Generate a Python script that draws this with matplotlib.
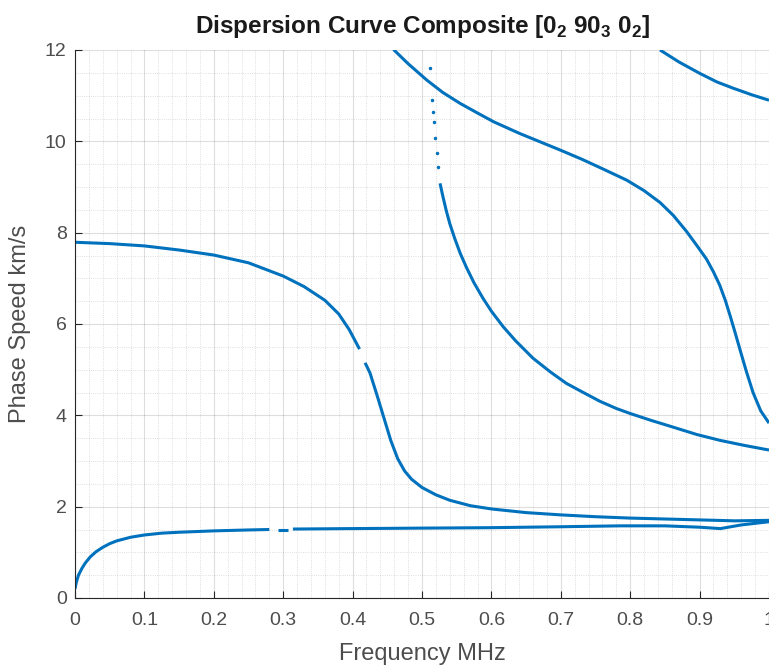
import matplotlib.pyplot as plt
from matplotlib.ticker import MultipleLocator

plt.rcParams['font.family'] = ['Liberation Sans', 'DejaVu Sans']
plt.rcParams['mathtext.fontset'] = 'custom'
plt.rcParams['mathtext.rm'] = 'Liberation Sans'
plt.rcParams['mathtext.bf'] = 'Liberation Sans:bold'

# curve values (frequency MHz, phase speed km/s)
a_freq = [0.0, 0.002, 0.005, 0.01, 0.015, 0.022, 0.03, 0.04, 0.05, 0.06,
          0.08, 0.1, 0.125, 0.15, 0.2, 0.25, 0.28]
a_speed = [0.2, 0.35, 0.5, 0.65, 0.77, 0.9, 1.01, 1.11, 1.19, 1.25,
           1.33, 1.38, 1.42, 1.44, 1.47, 1.49, 1.50]
a2_freq = [0.292, 0.307]
a2_speed = [1.50, 1.50]
a3_freq = [0.314, 0.4, 0.497, 0.6, 0.7, 0.785, 0.85, 0.9, 0.93, 0.96, 1.0]
a3_speed = [1.51, 1.52, 1.53, 1.54, 1.56, 1.58, 1.58, 1.55, 1.52, 1.60, 1.67]

b_freq = [0.0, 0.05, 0.1, 0.15, 0.2, 0.25, 0.3, 0.33, 0.36, 0.38, 0.395, 0.41]
b_speed = [7.79, 7.76, 7.71, 7.62, 7.51, 7.34, 7.05, 6.82, 6.52, 6.22, 5.88, 5.45]
b2_freq = [0.418, 0.425, 0.435, 0.445, 0.455, 0.465, 0.475, 0.485, 0.5,
           0.52, 0.54, 0.57, 0.6, 0.65, 0.7, 0.75, 0.8, 0.85, 0.9, 0.95, 1.0]
b2_speed = [5.15, 4.93, 4.45, 3.95, 3.45, 3.05, 2.78, 2.6, 2.42,
            2.26, 2.14, 2.02, 1.95, 1.87, 1.82, 1.78, 1.75, 1.73, 1.71, 1.69, 1.70]

c_freq = [0.459, 0.48, 0.507, 0.53, 0.555, 0.58, 0.603, 0.641, 0.67, 0.699,
          0.73, 0.76, 0.795, 0.82, 0.843, 0.862, 0.881, 0.895, 0.91, 0.92,
          0.929, 0.937, 0.944, 0.951, 0.958, 0.967, 0.977, 0.988, 1.0]
c_speed = [12.01, 11.7, 11.34, 11.07, 10.83, 10.62, 10.43, 10.17, 9.99, 9.81,
           9.61, 9.40, 9.15, 8.92, 8.66, 8.38, 8.03, 7.74, 7.42, 7.14,
           6.85, 6.52, 6.18, 5.82, 5.45, 4.98, 4.50, 4.10, 3.83]

d_dot_freq = [0.512, 0.514, 0.516, 0.517, 0.519, 0.521, 0.523]
d_dot_speed = [11.6, 10.9, 10.65, 10.43, 10.07, 9.74, 9.44]
d_freq = [0.526, 0.53, 0.535, 0.54, 0.547, 0.555, 0.564, 0.575, 0.588, 0.6,
          0.617, 0.635, 0.66, 0.685, 0.708, 0.73, 0.756, 0.78, 0.8, 0.83,
          0.86, 0.896, 0.93, 0.965, 1.0]
d_speed = [9.08, 8.80, 8.48, 8.20, 7.88, 7.55, 7.24, 6.90, 6.56, 6.28,
           5.94, 5.63, 5.25, 4.95, 4.70, 4.52, 4.31, 4.15, 4.04, 3.89,
           3.75, 3.58, 3.45, 3.34, 3.24]

e_freq = [0.843, 0.87, 0.9, 0.925, 0.949, 0.975, 1.0]
e_speed = [12.0, 11.74, 11.49, 11.3, 11.16, 11.02, 10.9]

blue = '#0072BD'

fig = plt.figure(figsize=(7.69, 6.71), dpi=100)
ax = fig.add_axes([75 / 769, 73 / 671, 694 / 769, 548 / 671])

for f, v in [(a_freq, a_speed), (a2_freq, a2_speed), (a3_freq, a3_speed),
             (b_freq, b_speed), (b2_freq, b2_speed), (c_freq, c_speed),
             (d_freq, d_speed), (e_freq, e_speed)]:
    ax.plot(f, v, '-', color=blue, lw=2.2, solid_capstyle='butt',
            solid_joinstyle='round')
ax.plot(d_dot_freq, d_dot_speed, '.', color=blue, ms=3)

ax.set_xlim(0, 1)
ax.set_ylim(0, 12)
ax.xaxis.set_major_locator(MultipleLocator(0.1))
ax.xaxis.set_minor_locator(MultipleLocator(0.02))
ax.yaxis.set_major_locator(MultipleLocator(2))
ax.yaxis.set_minor_locator(MultipleLocator(0.5))
ax.xaxis.set_major_formatter(lambda x, pos: f'{x:g}')

ax.grid(True, which='major', color='#262626', alpha=0.15, lw=0.8)
ax.grid(True, which='minor', color='#262626', alpha=0.2, lw=0.6, ls=':')
ax.tick_params(which='both', direction='in', colors='#262626', labelsize=14)
ax.tick_params(which='major', length=5, width=0.8, labelcolor='#4d4d4d')
ax.tick_params(which='minor', length=0)
ax.tick_params(axis='x', pad=10)
ax.tick_params(axis='y', pad=6)
ax.spines['top'].set_visible(False)
ax.spines['right'].set_visible(False)
for s in ['left', 'bottom']:
    ax.spines[s].set_color('#262626')
    ax.spines[s].set_linewidth(0.8)

ax.set_xlabel('Frequency MHz', fontsize=17, color='#4d4d4d', labelpad=10)
ax.set_ylabel('Phase Speed km/s', fontsize=17, color='#4d4d4d', labelpad=10)
ax.set_title(r'Dispersion Curve Composite [0$_{\mathbf{2}}$ 90$_{\mathbf{3}}$ 0$_{\mathbf{2}}$]',
             fontsize=17.5, fontweight='bold', color='#1a1a1a', pad=12)

fig.savefig('out.png', dpi=100)
